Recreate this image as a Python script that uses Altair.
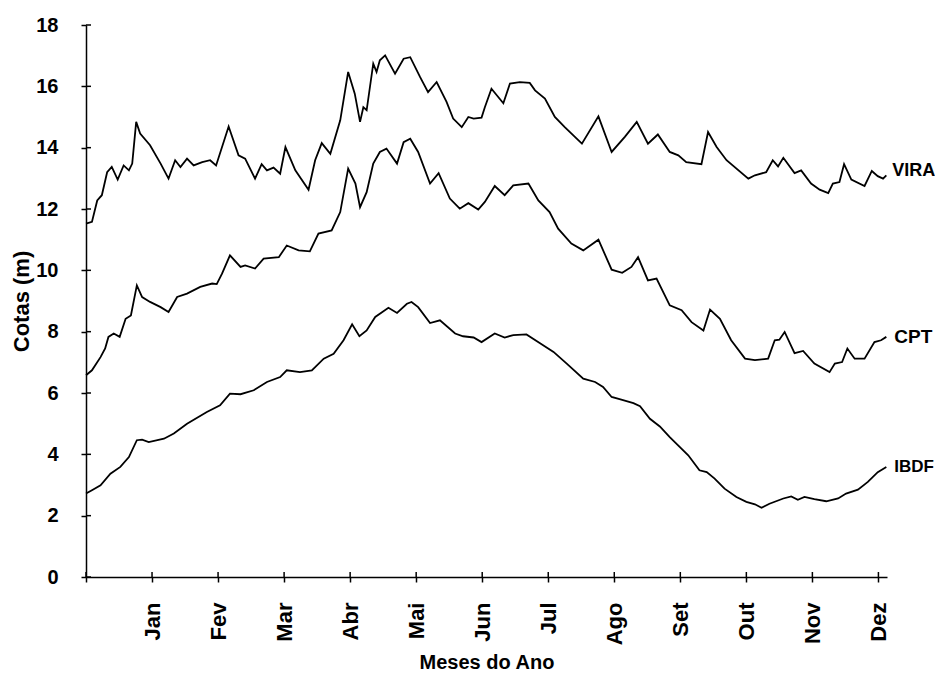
import altair as alt
import pandas as pd

# ---- data (x in months from axis origin, y = cota in m)
meses = ["Jan", "Fev", "Mar", "Abr", "Mai", "Jun", "Jul", "Ago", "Set", "Out", "Nov", "Dez"]

vira_x = [0.00, 0.09, 0.17, 0.24, 0.32, 0.39, 0.48, 0.57, 0.65, 0.70, 0.76, 0.82, 0.97, 1.13, 1.25,
          1.35, 1.43, 1.53, 1.63, 1.76, 1.88, 1.97, 2.16, 2.31, 2.41, 2.56, 2.66, 2.74, 2.84, 2.94,
          3.02, 3.17, 3.37, 3.47, 3.57, 3.70, 3.85, 3.97, 4.07, 4.15, 4.20, 4.25, 4.35, 4.40, 4.45,
          4.53, 4.68, 4.81, 4.91, 5.06, 5.18, 5.31, 5.46, 5.56, 5.69, 5.79, 5.87, 5.99, 6.04, 6.14,
          6.32, 6.42, 6.57, 6.72, 6.80, 6.95, 7.10, 7.25, 7.51, 7.76, 7.96, 8.16, 8.34, 8.51, 8.66,
          8.84, 8.97, 9.09, 9.32, 9.42, 9.55, 9.70, 10.03, 10.13, 10.30, 10.40, 10.48, 10.56, 10.73,
          10.83, 10.98, 11.11, 11.24, 11.31, 11.41, 11.48, 11.59, 11.79, 11.90, 11.99, 12.07, 12.12]
vira_y = [11.52, 11.58, 12.28, 12.45, 13.20, 13.37, 12.96, 13.42, 13.26, 13.48, 14.84, 14.46, 14.08,
          13.48, 12.99, 13.59, 13.37, 13.64, 13.42, 13.53, 13.59, 13.42, 14.69, 13.75, 13.64, 12.99,
          13.46, 13.26, 13.35, 13.15, 14.02, 13.26, 12.63, 13.59, 14.15, 13.80, 14.89, 16.47, 15.76,
          14.84, 15.32, 15.22, 16.74, 16.47, 16.85, 17.01, 16.41, 16.90, 16.95, 16.30, 15.81, 16.14,
          15.49, 14.95, 14.67, 15.00, 14.95, 14.98, 15.32, 15.92, 15.45, 16.09, 16.14, 16.11, 15.87,
          15.60, 15.00, 14.67, 14.13, 15.02, 13.86, 14.35, 14.84, 14.13, 14.43, 13.86, 13.75, 13.53,
          13.46, 14.51, 14.02, 13.59, 12.99, 13.10, 13.20, 13.59, 13.39, 13.67, 13.17, 13.26, 12.83,
          12.63, 12.52, 12.83, 12.88, 13.46, 12.96, 12.75, 13.24, 13.07, 12.99, 13.10]

cpt_x = [0.00, 0.09, 0.22, 0.29, 0.34, 0.42, 0.51, 0.60, 0.68, 0.77, 0.85, 0.97, 1.13, 1.25, 1.38,
         1.53, 1.73, 1.91, 1.98, 2.06, 2.18, 2.34, 2.41, 2.56, 2.69, 2.92, 3.04, 3.22, 3.39, 3.52,
         3.72, 3.85, 3.97, 4.08, 4.15, 4.25, 4.35, 4.45, 4.55, 4.71, 4.81, 4.91, 5.03, 5.21, 5.34,
         5.51, 5.66, 5.79, 5.94, 6.04, 6.19, 6.34, 6.47, 6.70, 6.85, 7.02, 7.15, 7.35, 7.53, 7.76,
         7.96, 8.12, 8.26, 8.36, 8.51, 8.64, 8.84, 9.02, 9.17, 9.35, 9.45, 9.60, 9.77, 9.98, 10.13,
         10.33, 10.43, 10.50, 10.58, 10.73, 10.86, 11.03, 11.26, 11.34, 11.45, 11.53, 11.64, 11.79,
         11.94, 12.04, 12.12]
cpt_y = [6.58, 6.74, 7.17, 7.45, 7.83, 7.94, 7.83, 8.42, 8.53, 9.51, 9.13, 8.97, 8.80, 8.64, 9.13,
         9.24, 9.46, 9.57, 9.55, 9.89, 10.49, 10.11, 10.16, 10.06, 10.38, 10.43, 10.81, 10.65, 10.62,
         11.20, 11.30, 11.90, 13.32, 12.83, 12.06, 12.55, 13.48, 13.86, 13.97, 13.48, 14.18, 14.29,
         13.86, 12.83, 13.17, 12.34, 12.01, 12.19, 11.98, 12.23, 12.75, 12.45, 12.77, 12.83, 12.28,
         11.90, 11.36, 10.87, 10.65, 11.00, 10.02, 9.92, 10.11, 10.43, 9.67, 9.73, 8.86, 8.70, 8.31,
         8.04, 8.72, 8.42, 7.72, 7.12, 7.07, 7.12, 7.72, 7.74, 7.99, 7.30, 7.37, 6.96, 6.68, 6.96,
         7.01, 7.45, 7.12, 7.12, 7.66, 7.72, 7.83]

ibdf_x = [0.00, 0.09, 0.22, 0.37, 0.52, 0.65, 0.77, 0.85, 0.95, 1.18, 1.33, 1.53, 1.83, 2.03, 2.18,
          2.34, 2.54, 2.74, 2.94, 3.04, 3.24, 3.42, 3.60, 3.75, 3.90, 4.03, 4.14, 4.25, 4.38, 4.58,
          4.71, 4.86, 4.93, 5.03, 5.21, 5.36, 5.59, 5.71, 5.87, 5.99, 6.19, 6.34, 6.47, 6.67, 6.87,
          7.08, 7.28, 7.53, 7.71, 7.83, 7.96, 8.08, 8.29, 8.39, 8.54, 8.69, 8.84, 8.99, 9.12, 9.29,
          9.40, 9.52, 9.67, 9.85, 10.00, 10.13, 10.23, 10.35, 10.56, 10.68, 10.78, 10.88, 11.03,
          11.21, 11.39, 11.51, 11.69, 11.84, 11.99, 12.12]
ibdf_y = [2.72, 2.83, 2.99, 3.37, 3.59, 3.91, 4.46, 4.48, 4.40, 4.51, 4.68, 5.00, 5.38, 5.60, 5.98,
          5.96, 6.09, 6.36, 6.52, 6.74, 6.68, 6.74, 7.12, 7.28, 7.72, 8.24, 7.85, 8.04, 8.48, 8.78,
          8.61, 8.91, 8.97, 8.80, 8.28, 8.37, 7.94, 7.85, 7.81, 7.66, 7.94, 7.81, 7.89, 7.91, 7.63,
          7.34, 6.96, 6.47, 6.36, 6.20, 5.87, 5.80, 5.67, 5.57, 5.16, 4.91, 4.56, 4.24, 3.97, 3.48,
          3.42, 3.21, 2.88, 2.61, 2.45, 2.37, 2.26, 2.39, 2.56, 2.63, 2.52, 2.61, 2.54, 2.47, 2.56,
          2.72, 2.85, 3.10, 3.42, 3.59]

series = {"VIRA": (vira_x, vira_y), "CPT": (cpt_x, cpt_y), "IBDF": (ibdf_x, ibdf_y)}
label_style = {"VIRA": (6, -4, 18), "CPT": (8, 0, 19), "IBDF": (8, 0, 17)}

rows = []
for name, (xs, ys) in series.items():
    for i, (xv, yv) in enumerate(zip(xs, ys)):
        rows.append({"serie": name, "mes": xv, "cota": yv, "ordem": i})
df = pd.DataFrame(rows)

xticks = pd.DataFrame({"mes": list(range(0, 13))})
yticks = pd.DataFrame({"cota": list(range(0, 19, 2))})

FONT = "Liberation Sans, Arial, Helvetica, sans-serif"

W, H = 801, 552
month_expr = "datum.value == 0 ? '' : " + str(meses) + "[datum.value - 1]"

xscale = alt.Scale(domain=[0, 12.13], nice=False, zero=False)
yscale = alt.Scale(domain=[0, 18], nice=False)

xaxis = alt.Axis(values=list(range(0, 13)), labelExpr=month_expr, labelAngle=270,
                 labelFont=FONT, labelFontSize=22, labelFontWeight="bold", labelColor="black",
                 labelPadding=20, tickSize=5, title="Meses do Ano", titleFont=FONT,
                 titleFontSize=20, titleFontWeight="bold", titleColor="black",
                 titleX=W / 2, titleY=91, titleAlign="center", titleBaseline="alphabetic",
                 labelOverlap=False)
yaxis = alt.Axis(values=list(range(0, 19, 2)), labelFont=FONT, labelFontSize=20,
                 labelFontWeight="bold", labelColor="black", labelPadding=23, tickSize=5,
                 title="Cotas (m)", titleFont=FONT, titleFontSize=22, titleFontWeight="bold",
                 titleColor="black", titleAngle=270, titleX=-65, titleY=H / 2,
                 titleAlign="center", titleBaseline="middle")

lines = alt.Chart(df).mark_line(color="black", strokeWidth=1.8).encode(
    x=alt.X("mes:Q", scale=xscale, axis=xaxis),
    y=alt.Y("cota:Q", scale=yscale, axis=yaxis),
    detail="serie:N",
    order="ordem:Q",
)

texts = []
for name, (xs, ys) in series.items():
    dx, dy, fs = label_style[name]
    lab = pd.DataFrame([{"serie": name, "mes": xs[-1], "cota": ys[-1]}])
    texts.append(alt.Chart(lab).mark_text(align="left", baseline="middle", dx=dx, dy=dy,
                                          font=FONT, fontSize=fs, fontWeight="bold",
                                          color="black").encode(
        x=alt.X("mes:Q", scale=xscale),
        y=alt.Y("cota:Q", scale=yscale),
        text="serie:N",
    ))

xin = alt.Chart(xticks).mark_rule(color="black", strokeWidth=1.5).encode(
    x=alt.X("mes:Q", scale=xscale), y=alt.value(H - 5), y2=alt.value(H))
yin = alt.Chart(yticks).mark_rule(color="black", strokeWidth=1.5).encode(
    y=alt.Y("cota:Q", scale=yscale), x=alt.value(0), x2=alt.value(5))

chart = alt.layer(lines, *texts, xin, yin).properties(
    width=W, height=H,
    autosize=alt.AutoSizeParams(type="none"),
    padding={"left": 78, "top": 17, "right": 48, "bottom": 97},
    background="white",
).configure_view(stroke=None).configure_axis(
    grid=False, domainColor="black", domainWidth=1.5, tickColor="black", tickWidth=1.5
)

chart.save("out.html", embed_options={"renderer": "svg", "actions": False})
